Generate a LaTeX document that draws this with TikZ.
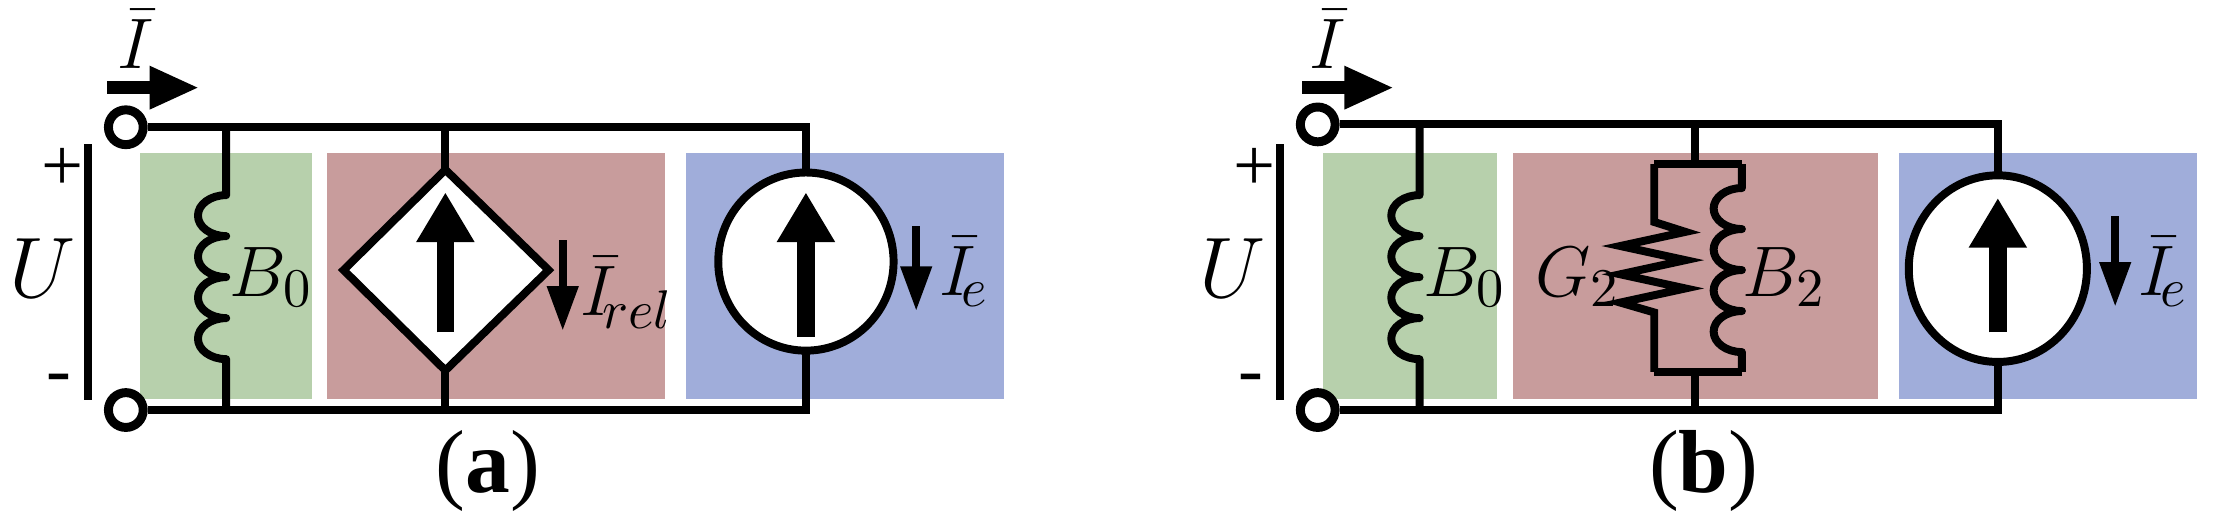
\documentclass[tikz,border=0pt]{standalone}
\usepackage{fontspec}
\setmainfont{Liberation Serif}
\usetikzlibrary{arrows.meta}
\begin{document}
\begin{tikzpicture}[x=0.01cm,y=-0.01cm,
  wire/.style={line width=1.6pt},
  lbl/.style={font=\fontsize{15}{17}\selectfont},
  big/.style={font=\fontsize{18}{20}\selectfont},
  bigarr/.style={line width=3.5pt,-{Triangle[length=10pt,width=11pt]}},
  smallarr/.style={line width=1.6pt,-{Triangle[length=9pt,width=6pt]}},
  iarr/.style={line width=2.6pt,-{Triangle[length=10pt,width=8pt]}},
  term/.style={circle,draw,line width=1.8pt,inner sep=0pt,minimum size=7pt,fill=white}]
\useasboundingbox (0,0) rectangle (1568,363.5);
\definecolor{gr}{RGB}{183,208,172}
\definecolor{rd}{RGB}{200,156,156}
\definecolor{bl}{RGB}{160,173,218}
% ===== panel a =====
\fill[gr] (99,108) rectangle (221,282);
\fill[rd] (231,108) rectangle (470,282);
\fill[bl] (485,108) rectangle (710,282);
\node[term] (ta) at (89,90) {};
\node[term] (tb) at (89,290) {};
\coordinate (a1) at (570,90);
\coordinate (a2) at (570,290);
\draw[wire] (ta) -- (a1) -- (570,122);
\draw[wire] (tb) -- (a2) -- (570,248);
\draw[wire,fill=white] (570,185) ellipse (62 and 63);
\draw[bigarr] (570,238) -- (570,136);
\draw[smallarr] (648,160) -- (648,220);
\node[lbl,anchor=west] (iea) at (652,192) {$\bar I_{\!e}$};
\draw[wire,line join=round] (160,90) -- (160,138)
  arc(270:90:20 and 14.5) arc(270:90:20 and 14.5) arc(270:90:20 and 14.5) arc(270:90:20 and 14.5) -- (160,290);
\node[lbl] (b0a) at (192,196) {$B_0$};
\draw[wire] (315,90) -- (315,120);
\draw[wire] (315,262) -- (315,290);
\draw[wire,fill=white,line join=miter] (315,120) -- (388,191) -- (315,262) -- (243,191) -- cycle;
\draw[bigarr] (315,235) -- (315,136);
\draw[smallarr] (398,170) -- (398,234);
\node[lbl,anchor=west] (irel) at (398,207) {$\bar I_{\!rel}$};
\draw[iarr] (76,62) -- (141,62);
\node[lbl] (ia) at (96,28) {$\bar I$};
\draw[wire] (62,102) -- (62,283);
\node[lbl] at (44,120) {+};
\node[big] at (30,190) {$U$};
\node[lbl] at (42,272) {-};
\node[big] (capa) at (345,333) {(\textbf{a})};
% ===== panel b =====
\fill[gr] (936,108) rectangle (1059,282);
\fill[rd] (1070,108) rectangle (1328,282);
\fill[bl] (1343,108) rectangle (1554,282);
\node[term] (tc) at (932,88) {};
\node[term] (td) at (932,290) {};
\coordinate (b1) at (1413,88);
\coordinate (b2) at (1413,290);
\draw[wire] (tc) -- (b1) -- (1413,124);
\draw[wire] (td) -- (b2) -- (1413,256);
\draw[wire,fill=white] (1413,190) ellipse (63 and 66);
\draw[bigarr] (1413,235) -- (1413,140);
\draw[smallarr] (1496,153) -- (1496,217);
\node[lbl,anchor=west] (ieb) at (1500,192) {$\bar I_{\!e}$};
\draw[wire,line join=round] (1004,88) -- (1004,138)
  arc(270:90:20 and 14.5) arc(270:90:20 and 14.5) arc(270:90:20 and 14.5) arc(270:90:20 and 14.5) -- (1004,290);
\node[lbl] (b0b) at (1036,196) {$B_0$};
\draw[wire] (1199,88) -- (1199,116);
\draw[wire] (1199,263) -- (1199,290);
\draw[wire] (1170,116) -- (1232,116);
\draw[wire] (1170,263) -- (1232,263);
\draw[wire,line join=miter] (1170,116) -- (1170,157) -- (1192,164) -- (1146,174) -- (1192,184) -- (1146,194) -- (1192,204) -- (1146,214) -- (1170,221) -- (1170,263);
\draw[wire,line join=round] (1232,116) -- (1232,133)
  arc(270:90:20 and 14.5) arc(270:90:20 and 14.5) arc(270:90:20 and 14.5) arc(270:90:20 and 14.5) -- (1232,263);
\node[lbl] (g2) at (1116,196) {$G_2$};
\node[lbl] (b2) at (1262,196) {$B_2$};
\draw[iarr] (921,62) -- (986,62);
\node[lbl] (ib) at (939,28) {$\bar I$};
\draw[wire] (905,102) -- (905,283);
\node[lbl] at (887,120) {+};
\node[big] at (872,190) {$U$};
\node[lbl] at (885,272) {-};
\node[big] (capb) at (1205,333) {(\textbf{b})};
\end{tikzpicture}
\end{document}
